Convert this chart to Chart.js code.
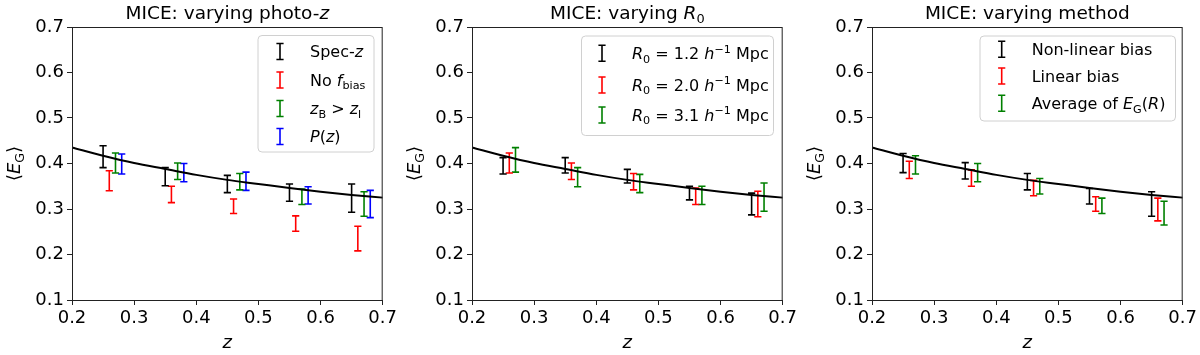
<!DOCTYPE html>
<html>
<head>
<meta charset="utf-8">
<script src="https://cdn.jsdelivr.net/npm/chart.js@4/dist/chart.umd.min.js"></script>
<style>
  body { margin: 0; background: #fff; }
  .panel { position: absolute; top: 0; width: 400px; height: 355px; }
</style>
</head>
<body>
<div class="panel" style="left:0px"><canvas id="c1"></canvas></div>
<div class="panel" style="left:400px"><canvas id="c2"></canvas></div>
<div class="panel" style="left:800px"><canvas id="c3"></canvas></div>
<script>
const zBins = [0.25, 0.35, 0.45, 0.55, 0.65];
const xShift = [0, 0.01, 0.02, 0.03];

// theory curve
const curveZ = [0.2, 0.25, 0.3, 0.35, 0.4, 0.45, 0.5, 0.55, 0.6, 0.65, 0.7];
const curveEG = [0.435, 0.417, 0.401, 0.388, 0.375, 0.364, 0.355, 0.346, 0.338, 0.331, 0.325];

// panel 1: photo-z
const specZ = [0.415, 0.371, 0.355, 0.336, 0.324];
const specZErr = [0.024, 0.020, 0.019, 0.019, 0.031];
const noFbias = [0.362, 0.332, 0.306, 0.268, 0.235];
const noFbiasErr = [0.022, 0.018, 0.016, 0.017, 0.027];
const zbGtZl = [0.401, 0.383, 0.360, 0.327, 0.311];
const zbGtZlErr = [0.022, 0.018, 0.018, 0.017, 0.027];
const pOfZ = [0.399, 0.380, 0.361, 0.330, 0.311];
const pOfZErr = [0.022, 0.020, 0.020, 0.019, 0.030];

// panel 2: R0
const r12 = [0.395, 0.396, 0.372, 0.335, 0.311];
const r12Err = [0.018, 0.017, 0.015, 0.015, 0.024];
const r20 = [0.401, 0.383, 0.360, 0.328, 0.311];
const r20Err = [0.022, 0.018, 0.018, 0.018, 0.028];
const r31 = [0.408, 0.370, 0.356, 0.330, 0.326];
const r31Err = [0.027, 0.021, 0.020, 0.020, 0.031];

// panel 3: method
const nonLin = [0.401, 0.384, 0.360, 0.328, 0.311];
const nonLinErr = [0.021, 0.018, 0.018, 0.017, 0.027];
const linBias = [0.386, 0.368, 0.346, 0.311, 0.299];
const linBiasErr = [0.019, 0.018, 0.017, 0.016, 0.025];
const avgEgR = [0.397, 0.380, 0.350, 0.307, 0.291];
const avgEgRErr = [0.020, 0.020, 0.017, 0.017, 0.026];

const yTicks = [0.1, 0.2, 0.3, 0.4, 0.5, 0.6, 0.7];
const FONT = '"DejaVu Sans"';

function segFont(s, size) {
  const sz = (s.sub || s.sup) ? size * 0.7 : size;
  return (s.it ? 'italic ' : '') + sz + 'px ' + FONT;
}

function richWidth(ctx, segs, size) {
  let w = 0;
  segs.forEach(s => { ctx.font = segFont(s, size); w += ctx.measureText(s.t).width; });
  return w;
}

// draws mathtext-like text on the alphabetic baseline
function drawRich(ctx, segs, x, y, size, align) {
  const w = richWidth(ctx, segs, size);
  let cx = align === 'center' ? x - w / 2 : x;
  ctx.textBaseline = 'alphabetic';
  ctx.textAlign = 'left';
  ctx.fillStyle = '#000';
  segs.forEach(s => {
    ctx.font = segFont(s, size);
    let dy = 0;
    if (s.sub) dy = size * 0.22;
    if (s.sup) dy = -size * 0.4;
    ctx.fillText(s.t, cx, y + dy);
    cx += ctx.measureText(s.t).width;
  });
}

function errSeries(vals, errs, shift) {
  const pts = [];
  zBins.forEach((z, i) => {
    const x = +(z + shift).toFixed(3);
    pts.push({ x: x, y: vals[i] - errs[i] });
    pts.push({ x: x, y: vals[i] + errs[i] });
    pts.push({ x: x, y: null });
  });
  return pts;
}

function errDataset(vals, errs, shift, color) {
  return {
    type: 'line',
    data: errSeries(vals, errs, shift),
    borderColor: color,
    borderWidth: 1.6,
    pointStyle: 'line',
    pointRadius: 3.6,
    pointBorderWidth: 1.6,
    pointBorderColor: color,
    spanGaps: false,
    tension: 0
  };
}

function curveDataset() {
  return {
    type: 'line',
    data: curveZ.map((z, i) => ({ x: z, y: curveEG[i] })),
    borderColor: '#000',
    borderWidth: 2,
    pointRadius: 0,
    cubicInterpolationMode: 'monotone'
  };
}

const decor = {
  id: 'decor',
  afterDraw(chart) {
    const o = chart.options.plugins.decor;
    const ctx = chart.ctx;
    const a = chart.chartArea;
    ctx.save();
    // frame (top/right spines)
    ctx.strokeStyle = '#222';
    ctx.lineWidth = 1;
    ctx.strokeRect(a.left + 0.5, a.top + 0.5, a.right - a.left - 1, a.bottom - a.top);
    // title
    const mid = (a.left + a.right) / 2;
    drawRich(ctx, o.title, mid, 19, 18.5, 'center');
    // x label
    drawRich(ctx, [{ t: 'z', it: 1 }], mid, 348, 18, 'center');
    // y label
    ctx.save();
    ctx.translate(20, (a.top + a.bottom) / 2);
    ctx.rotate(-Math.PI / 2);
    drawRich(ctx, [{ t: '⟨' }, { t: 'E', it: 1 }, { t: 'G', sub: 1 }, { t: '⟩' }], 0, 0, 18, 'center');
    ctx.restore();
    // legend
    const L = o.legend;
    ctx.beginPath();
    ctx.roundRect(L.box[0] + 0.5, L.box[1] + 0.5, L.box[2] - L.box[0], L.box[3] - L.box[1], 4);
    ctx.fillStyle = 'rgba(255,255,255,0.8)';
    ctx.fill();
    ctx.strokeStyle = '#d0d0d0';
    ctx.stroke();
    L.items.forEach((it, i) => {
      const ry = L.rows[i];
      ctx.strokeStyle = it.color;
      ctx.lineWidth = 1.6;
      ctx.beginPath();
      ctx.moveTo(L.iconX, ry - 8); ctx.lineTo(L.iconX, ry + 8);
      ctx.moveTo(L.iconX - 3.6, ry - 8); ctx.lineTo(L.iconX + 3.6, ry - 8);
      ctx.moveTo(L.iconX - 3.6, ry + 8); ctx.lineTo(L.iconX + 3.6, ry + 8);
      ctx.stroke();
      drawRich(ctx, it.label, L.textX, ry + 5.8, 16, 'left');
    });
    ctx.restore();
  }
};

function makeChart(id, datasets, title, legend) {
  new Chart(document.getElementById(id), {
    type: 'line',
    data: { datasets: [curveDataset()].concat(datasets) },
    options: {
      responsive: true,
      maintainAspectRatio: false,
      animation: false,
      events: [],
      layout: { padding: { left: 0, right: 17, top: 27, bottom: 0 } },
      plugins: {
        legend: { display: false },
        tooltip: { enabled: false },
        decor: { title: title, legend: legend }
      },
      scales: {
        x: {
          type: 'linear',
          min: 0.2, max: 0.7,
          afterFit: s => { s.height = 55; },
          border: { color: '#222', width: 1 },
          grid: { drawOnChartArea: false, drawTicks: true, tickLength: 5, color: '#222' },
          ticks: {
            stepSize: 0.1, padding: 3, color: '#000',
            font: { family: 'DejaVu Sans', size: 18 },
            callback: v => v.toFixed(1)
          }
        },
        y: {
          type: 'linear',
          min: 0.1, max: 0.7,
          afterFit: s => { s.width = 72; },
          afterBuildTicks: s => { s.ticks = yTicks.map(v => ({ value: v })); },
          border: { color: '#222', width: 1 },
          grid: { drawOnChartArea: false, drawTicks: true, tickLength: 5, color: '#222' },
          ticks: {
            padding: 3, color: '#000',
            font: { family: 'DejaVu Sans', size: 18 },
            callback: v => v.toFixed(1)
          }
        }
      }
    },
    plugins: [decor]
  });
}

makeChart('c1', [
  errDataset(specZ, specZErr, xShift[0], '#000000'),
  errDataset(noFbias, noFbiasErr, xShift[1], '#ff0000'),
  errDataset(zbGtZl, zbGtZlErr, xShift[2], '#008000'),
  errDataset(pOfZ, pOfZErr, xShift[3], '#0000ff')
], [{ t: 'MICE: varying photo-' }, { t: 'z', it: 1 }], {
  box: [257.5, 35, 373.5, 151.5], iconX: 280, textX: 310,
  rows: [51.5, 80, 108.5, 136.5],
  items: [
    { color: '#000000', label: [{ t: 'Spec-' }, { t: 'z', it: 1 }] },
    { color: '#ff0000', label: [{ t: 'No ' }, { t: 'f', it: 1 }, { t: 'bias', sub: 1 }] },
    { color: '#008000', label: [{ t: 'z', it: 1 }, { t: 'B', sub: 1 }, { t: ' > ' }, { t: 'z', it: 1 }, { t: 'l', sub: 1 }] },
    { color: '#0000ff', label: [{ t: 'P', it: 1 }, { t: '(' }, { t: 'z', it: 1 }, { t: ')' }] }
  ]
});

function r0Label(v) {
  return [{ t: 'R', it: 1 }, { t: '0', sub: 1 }, { t: ' = ' + v + ' ' }, { t: 'h', it: 1 }, { t: '−1', sup: 1 }, { t: ' Mpc' }];
}

makeChart('c2', [
  errDataset(r12, r12Err, xShift[0], '#000000'),
  errDataset(r20, r20Err, xShift[1], '#ff0000'),
  errDataset(r31, r31Err, xShift[2], '#008000')
], [{ t: 'MICE: varying ' }, { t: 'R', it: 1 }, { t: '0', sub: 1 }], {
  box: [181, 35.5, 373, 135], iconX: 202, textX: 232,
  rows: [53.3, 85, 115],
  items: [
    { color: '#000000', label: r0Label('1.2') },
    { color: '#ff0000', label: r0Label('2.0') },
    { color: '#008000', label: r0Label('3.1') }
  ]
});

makeChart('c3', [
  errDataset(nonLin, nonLinErr, xShift[0], '#000000'),
  errDataset(linBias, linBiasErr, xShift[1], '#ff0000'),
  errDataset(avgEgR, avgEgRErr, xShift[2], '#008000')
], [{ t: 'MICE: varying method' }], {
  box: [179.5, 35.5, 375, 120.5], iconX: 201.7, textX: 231.7,
  rows: [49.3, 76, 103.3],
  items: [
    { color: '#000000', label: [{ t: 'Non-linear bias' }] },
    { color: '#ff0000', label: [{ t: 'Linear bias' }] },
    { color: '#008000', label: [{ t: 'Average of ' }, { t: 'E', it: 1 }, { t: 'G', sub: 1 }, { t: '(' }, { t: 'R', it: 1 }, { t: ')' }] }
  ]
});
</script>
</body>
</html>
